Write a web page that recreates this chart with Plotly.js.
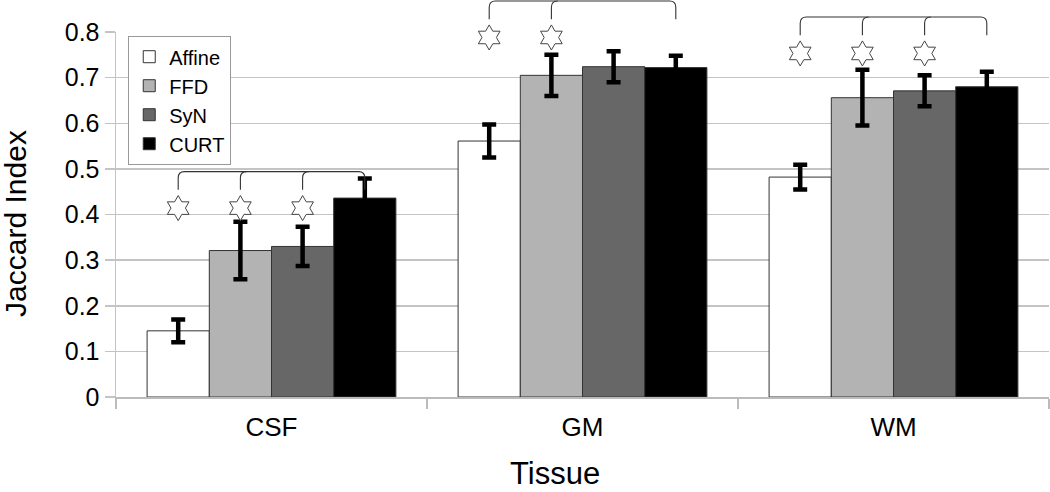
<!DOCTYPE html>
<html>
<head>
<meta charset="utf-8">
<script src="https://cdn.plot.ly/plotly-3.0.1.min.js"></script>
<style>html,body{margin:0;padding:0;background:#fff;}#chart{width:1050px;height:492px;}</style>
</head>
<body>
<div id="chart"></div>
<script>
// ---- data ----
const tissues = ['CSF', 'GM', 'WM'];
const methods = ['Affine', 'FFD', 'SyN', 'CURT'];
const affine = [0.145, 0.561, 0.482];
const affineErr = [0.025, 0.036, 0.027];
const ffd = [0.321, 0.705, 0.656];
const ffdErr = [0.063, 0.045, 0.061];
const syn = [0.330, 0.724, 0.671];
const synErr = [0.043, 0.034, 0.034];
const curt = [0.436, 0.722, 0.680];
const curtErr = [0.043, 0.026, 0.033];
// significance vs CURT (1 = star) per tissue, methods order
const sigCSF = [1, 1, 1, 0];
const sigGM = [1, 1, 0, 0];
const sigWM = [1, 1, 1, 0];
const bracketTop = [0.494, 0.868, 0.833];
const yTickVals = [0, 0.1, 0.2, 0.3, 0.4, 0.5, 0.6, 0.7, 0.8];
const yTickText = ['0', '0.1', '0.2', '0.3', '0.4', '0.5', '0.6', '0.7', '0.8'];

const colors = ['#ffffff', '#b3b3b3', '#676767', '#000000'];
const values = [affine, ffd, syn, curt];
const errs = [affineErr, ffdErr, synErr, curtErr];
const sigs = [sigCSF, sigGM, sigWM];
const FONT = 'Liberation Sans, Arial, sans-serif';
const YMAX = 0.8;
const BARGAP = 0.2;
const slot = (1 - BARGAP) / methods.length;

const traces = methods.map((m, i) => ({
  type: 'bar', name: m, x: tissues, y: values[i],
  marker: {color: colors[i], line: {color: '#333', width: 1}},
  error_y: {type: 'data', array: errs[i], visible: true, color: '#000', thickness: 4.5, width: 7},
  xaxis: 'x', yaxis: 'y'
}));

// stars and brackets
const starX = [], starY = [];
const shapes = [];
const dx = 0.0066, dy = 0.017, drop = 0.04;
tissues.forEach((t, ti) => {
  const xs = [];
  sigs[ti].forEach((s, mi) => {
    const xc = ti + (mi - (methods.length - 1) / 2) * slot;
    if (s) { starX.push(xc); starY.push(bracketTop[ti] - 2 * drop); }
    if (s || mi === methods.length - 1) xs.push((xc + 0.5) / tissues.length);
  });
  const yT = bracketTop[ti] / YMAX, yB = (bracketTop[ti] - drop) / YMAX;
  const x0 = xs[0], xN = xs[xs.length - 1];
  shapes.push({type: 'path', xref: 'paper', yref: 'paper', line: {color: '#333', width: 1.1},
    path: `M${x0},${yB} L${x0},${yT - dy} Q${x0},${yT} ${x0 + dx},${yT} L${xN - dx},${yT} Q${xN},${yT} ${xN},${yT - dy} L${xN},${yB}`});
  xs.slice(1, -1).forEach(xi => {
    shapes.push({type: 'path', xref: 'paper', yref: 'paper', line: {color: '#333', width: 1.1},
      path: `M${xi},${yB} L${xi},${yT - dy} Q${xi},${yT} ${xi + dx},${yT}`});
  });
});
traces.push({
  type: 'scatter', mode: 'markers', x: starX, y: starY, xaxis: 'x2', yaxis: 'y',
  showlegend: false, cliponaxis: false, hoverinfo: 'skip',
  marker: {symbol: 'hexagram', size: 19, color: '#fff', line: {color: '#444', width: 1}}
});

const layout = {
  width: 1050, height: 492,
  margin: {l: 116, r: 1, t: 32, b: 95},
  paper_bgcolor: '#fff', plot_bgcolor: '#fff',
  font: {family: FONT, color: '#000'},
  barmode: 'group', bargap: BARGAP, bargroupgap: 0,
  showlegend: true,
  legend: {x: 0.0129, y: 0.989, xanchor: 'left', yanchor: 'top', bgcolor: '#fff',
    bordercolor: '#999', borderwidth: 1.2, font: {family: FONT, size: 20, color: '#000'},
    tracegroupgap: 0},
  xaxis: {type: 'category', tickson: 'boundaries', ticks: 'outside', ticklen: 10, tickwidth: 1.5,
    tickcolor: '#bbb', showline: true, linecolor: '#bbb', linewidth: 1.5, showgrid: false,
    ticklabelstandoff: 6,
    tickfont: {family: FONT, size: 26, color: '#000'}, range: [-0.5, 2.5]},
  xaxis2: {overlaying: 'x', range: [-0.5, 2.5], visible: false, showgrid: false, zeroline: false},
  yaxis: {range: [0, YMAX], tickvals: yTickVals, ticktext: yTickText, ticks: 'outside', ticklen: 10,
    tickwidth: 1.5, tickcolor: '#c4c4c4', showline: true, linecolor: '#c4c4c4', linewidth: 1.5,
    gridcolor: '#c4c4c4', gridwidth: 1.5, zeroline: false,
    tickfont: {family: FONT, size: 25, color: '#000'}},
  shapes: shapes,
  annotations: [
    {text: 'Tissue', xref: 'paper', yref: 'paper', x: 0.4705, y: -0.259, xanchor: 'center', yanchor: 'bottom',
      showarrow: false, borderpad: 0, font: {family: FONT, size: 31, color: '#000'}},
    {text: 'Jaccard Index', xref: 'paper', yref: 'paper', x: -0.1072, y: 0.477, xanchor: 'center', yanchor: 'middle',
      textangle: -90, showarrow: false, font: {family: FONT, size: 30, color: '#000'}}
  ]
};

Plotly.newPlot('chart', traces, layout, {displayModeBar: false, staticPlot: true});
</script>
</body>
</html>
